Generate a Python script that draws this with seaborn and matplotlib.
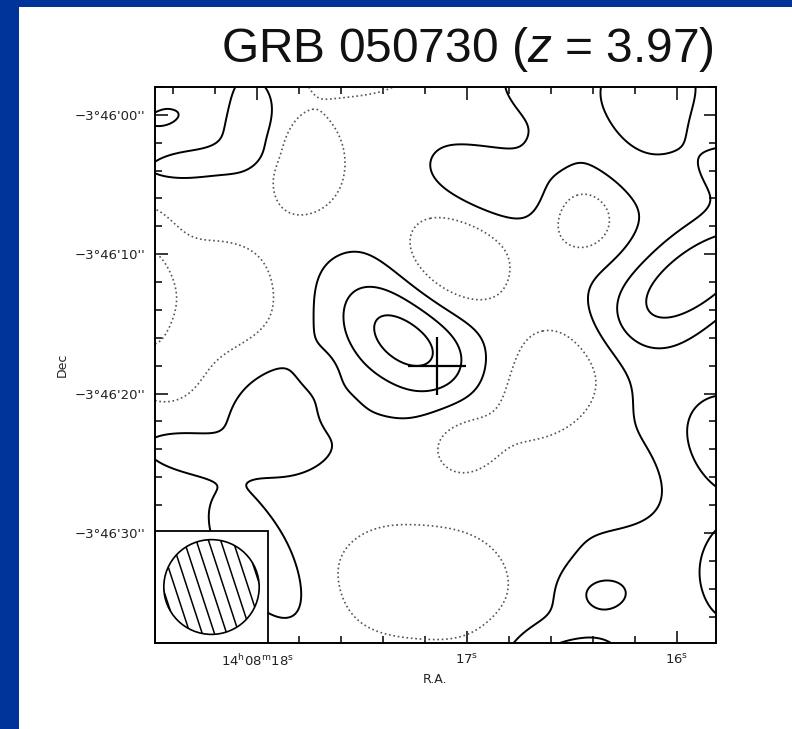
import numpy as np
import matplotlib
matplotlib.use("Agg")
import matplotlib.pyplot as plt
from matplotlib.patches import Rectangle, Ellipse
from matplotlib.ticker import MultipleLocator
import seaborn as sns

sns.set_style("ticks")
plt.rcParams["font.family"] = ["DejaVu Sans"]
plt.rcParams["mathtext.fontset"] = "custom"
plt.rcParams["mathtext.rm"] = "DejaVu Sans"
plt.rcParams["mathtext.it"] = "Liberation Sans:italic"

# ---- map window (RA seconds after 14h08m, Dec arcsec past -3d46m) ----
ra_edges = [18.486, 15.814]
dec_edges = [2.0, -37.9]
cos_dec = np.cos(np.deg2rad(3.77))

# ---- sky model: beam-convolved components of the map ----
# (RA s, Dec arcsec, peak, sigma major / minor in arcsec, position angle deg)
baseline = -0.35
comp_ra = [17.295, 15.890, 16.660, 16.890, 16.129, 15.738, 15.724, 15.738,
           16.357, 16.414, 16.033, 16.176, 16.676, 16.081, 15.805, 16.605,
           18.033, 18.295, 18.414, 18.438, 18.271,
           18.343, 17.867, 17.976, 17.652, 17.710,
           18.200, 18.533, 18.390, 17.767, 17.519, 17.057, 16.443, 16.486, 17.024,
           16.724, 16.224, 17.400, 16.995, 16.900]
comp_dec = [-16.0, -11.3, 1.4, -5.1, 1.85, -3.66, -23.4, -33.4,
            -34.4, -39.1, -21.9, -32.0, -39.2, -3.66, -0.8, -2.44,
            -0.57, -3.5, -0.07, 1.43, 0.65,
            -24.1, -21.4, -32.0, -21.2, -18.5,
            -13.3, -12.6, -19.0, -3.44, 3.15, -10.5, -7.46, -18.0, -23.4,
            -20.8, -26.2, -33.3, -33.8, -0.3]
comp_peak = [2.9, 2.9, 0.85, 1.4, 2.0, 1.45, 1.5, 1.8,
             1.15, 1.6, 0.8, 0.55, 0.6, 0.5, -0.4, 0.5,
             1.2, 1.0, 0.85, 0.5, -0.7,
             0.9, 1.15, 1.2, -0.6, -0.8,
             -1.3, -1.6, -0.6, -1.5, -1.3, -1.65, -1.5, -1.6, -1.1,
             -1.1, -0.8, -1.0, -1.0, -0.65]
comp_smaj = [4.3, 5.8, 2.0, 3.0, 3.6, 1.8, 2.8, 3.2,
             2.0, 3.0, 6.0, 4.0, 2.0, 3.0, 1.5, 1.2,
             2.3, 2.8, 1.3, 0.4, 1.6,
             2.2, 3.0, 3.5, 1.3, 1.1,
             4.2, 4.0, 2.0, 2.8, 2.9, 3.0, 1.8, 2.8, 2.0,
             2.9, 2.9, 3.6, 3.2, 2.4]
comp_smin = [2.6, 2.4, 2.0, 2.0, 3.6, 1.8, 2.8, 2.0,
             1.3, 1.8, 6.0, 4.0, 2.0, 3.0, 1.5, 1.2,
             1.6, 0.75, 0.6, 0.4, 1.6,
             1.0, 3.0, 1.6, 1.3, 1.1,
             3.6, 1.6, 2.0, 2.15, 1.4, 3.0, 1.8, 2.8, 2.0,
             2.9, 2.9, 3.6, 3.2, 1.3]
comp_pa = [-38, 35, 0, -20, 0, 0, 0, 90,
           0, 0, 0, 0, 0, 0, 0, 0,
           90, 8, 15, 0, 0,
           -10, 0, -55, 0, 0,
           0, 90, 0, 90, 0, 0, 0, 0, 0,
           0, 0, 0, 0, -17]

neg_levels = [-2, -1]
pos_levels = [0, 1, 2]

# GRB afterglow position and beam
grb_ra, grb_dec = 17.143, -18.0
beam_fwhm = 6.8  # arcsec

ra_ticks = [18, 17, 16]
ra_labels = [r"14$^{\rm h}$08$^{\rm m}$18$^{\rm s}$", r"17$^{\rm s}$", r"16$^{\rm s}$"]
dec_ticks = [0, -10, -20, -30]
dec_labels = ["\u22123\u00b046'00''", "\u22123\u00b046'10''",
              "\u22123\u00b046'20''", "\u22123\u00b046'30''"]

# ---- build the map ----
RA, DEC = np.meshgrid(np.linspace(*ra_edges, 500), np.linspace(*dec_edges, 500))
field = np.full(RA.shape, baseline)
for ra, dec, amp, smaj, smin, pa in zip(comp_ra, comp_dec, comp_peak,
                                        comp_smaj, comp_smin, comp_pa):
    dx = -(RA - ra) * 15 * cos_dec
    dy = DEC - dec
    t = np.deg2rad(pa)
    a = dx * np.cos(t) + dy * np.sin(t)
    b = -dx * np.sin(t) + dy * np.cos(t)
    field += amp * np.exp(-0.5 * ((a / smaj) ** 2 + (b / smin) ** 2))

# ---- figure ----
fig = plt.figure(figsize=(7.92, 7.29), dpi=100)
fig.patch.set_facecolor("white")
blue = "#00349a"
fig.patches.append(Rectangle((0, 0), 19 / 792, 1, transform=fig.transFigure,
                             facecolor=blue, edgecolor="none", zorder=0))
fig.patches.append(Rectangle((0, 1 - 7 / 729), 1, 7 / 729, transform=fig.transFigure,
                             facecolor=blue, edgecolor="none", zorder=0))

ax = fig.add_axes([155 / 792, 86 / 729, 561 / 792, 556 / 729])
ax.set_facecolor("white")

ax.contour(RA, DEC, field, levels=neg_levels, colors="#555555",
           linewidths=1.2, linestyles="dotted")
ax.contour(RA, DEC, field, levels=pos_levels, colors="black",
           linewidths=1.4, linestyles="solid")

sns.scatterplot(x=[grb_ra], y=[grb_dec], marker="+", s=42 ** 2, color="black",
                linewidth=1.6, ax=ax, zorder=5, legend=False)

ax.set_xlim(ra_edges)
ax.set_ylim(dec_edges[1], dec_edges[0])

# beam inset
box = 0.2014
ax.add_patch(Rectangle((0, 0), box, box, transform=ax.transAxes, facecolor="white",
                       edgecolor="black", linewidth=1.3, zorder=6))
bx = ra_edges[0] + 0.5 * box * (ra_edges[1] - ra_edges[0])
by = dec_edges[1] + 0.5 * box * (dec_edges[0] - dec_edges[1])
beam = Ellipse((bx, by), beam_fwhm / (15 * cos_dec), beam_fwhm, facecolor="none",
               edgecolor="black", linewidth=1.2, zorder=7)
ax.add_patch(beam)
spacing = beam_fwhm / 8.2
ang = np.deg2rad(-72)
ux, uy = np.cos(ang), np.sin(ang)
for k in np.arange(-4, 5):
    ox = -uy * k * spacing
    oy = ux * k * spacing
    s = np.array([-beam_fwhm, beam_fwhm])
    xs = bx - (ox + s * ux) / (15 * cos_dec)
    ys = by + oy + s * uy
    ln, = ax.plot(xs, ys, color="black", linewidth=1.1, zorder=7)
    ln.set_clip_path(beam)

# ticks
ax.set_xticks(ra_ticks)
ax.set_xticklabels(ra_labels)
ax.set_yticks(dec_ticks)
ax.set_yticklabels(dec_labels)
ax.xaxis.set_minor_locator(MultipleLocator(0.2))
ax.yaxis.set_minor_locator(MultipleLocator(2))
ax.tick_params(which="both", direction="in", top=True, right=True, color="black",
               width=1.1, labelsize=9.5, labelcolor="#222222")
ax.tick_params(which="major", length=9, pad=7)
ax.tick_params(which="minor", length=5)
for sp in ax.spines.values():
    sp.set_linewidth(1.4)
    sp.set_color("black")
    sp.set_zorder(8)

ax.set_xlabel("R.A.", fontsize=9, color="#222222", labelpad=3)
ax.set_ylabel("Dec", fontsize=9, color="#222222", labelpad=4)

fig.text(714 / 792, 1 - 62 / 729, r"GRB 050730 ($z$ = 3.97)", ha="right",
         va="baseline", fontsize=34.5, family="Liberation Sans", color="#111111")

fig.savefig("out.png", dpi=100, facecolor="white")
